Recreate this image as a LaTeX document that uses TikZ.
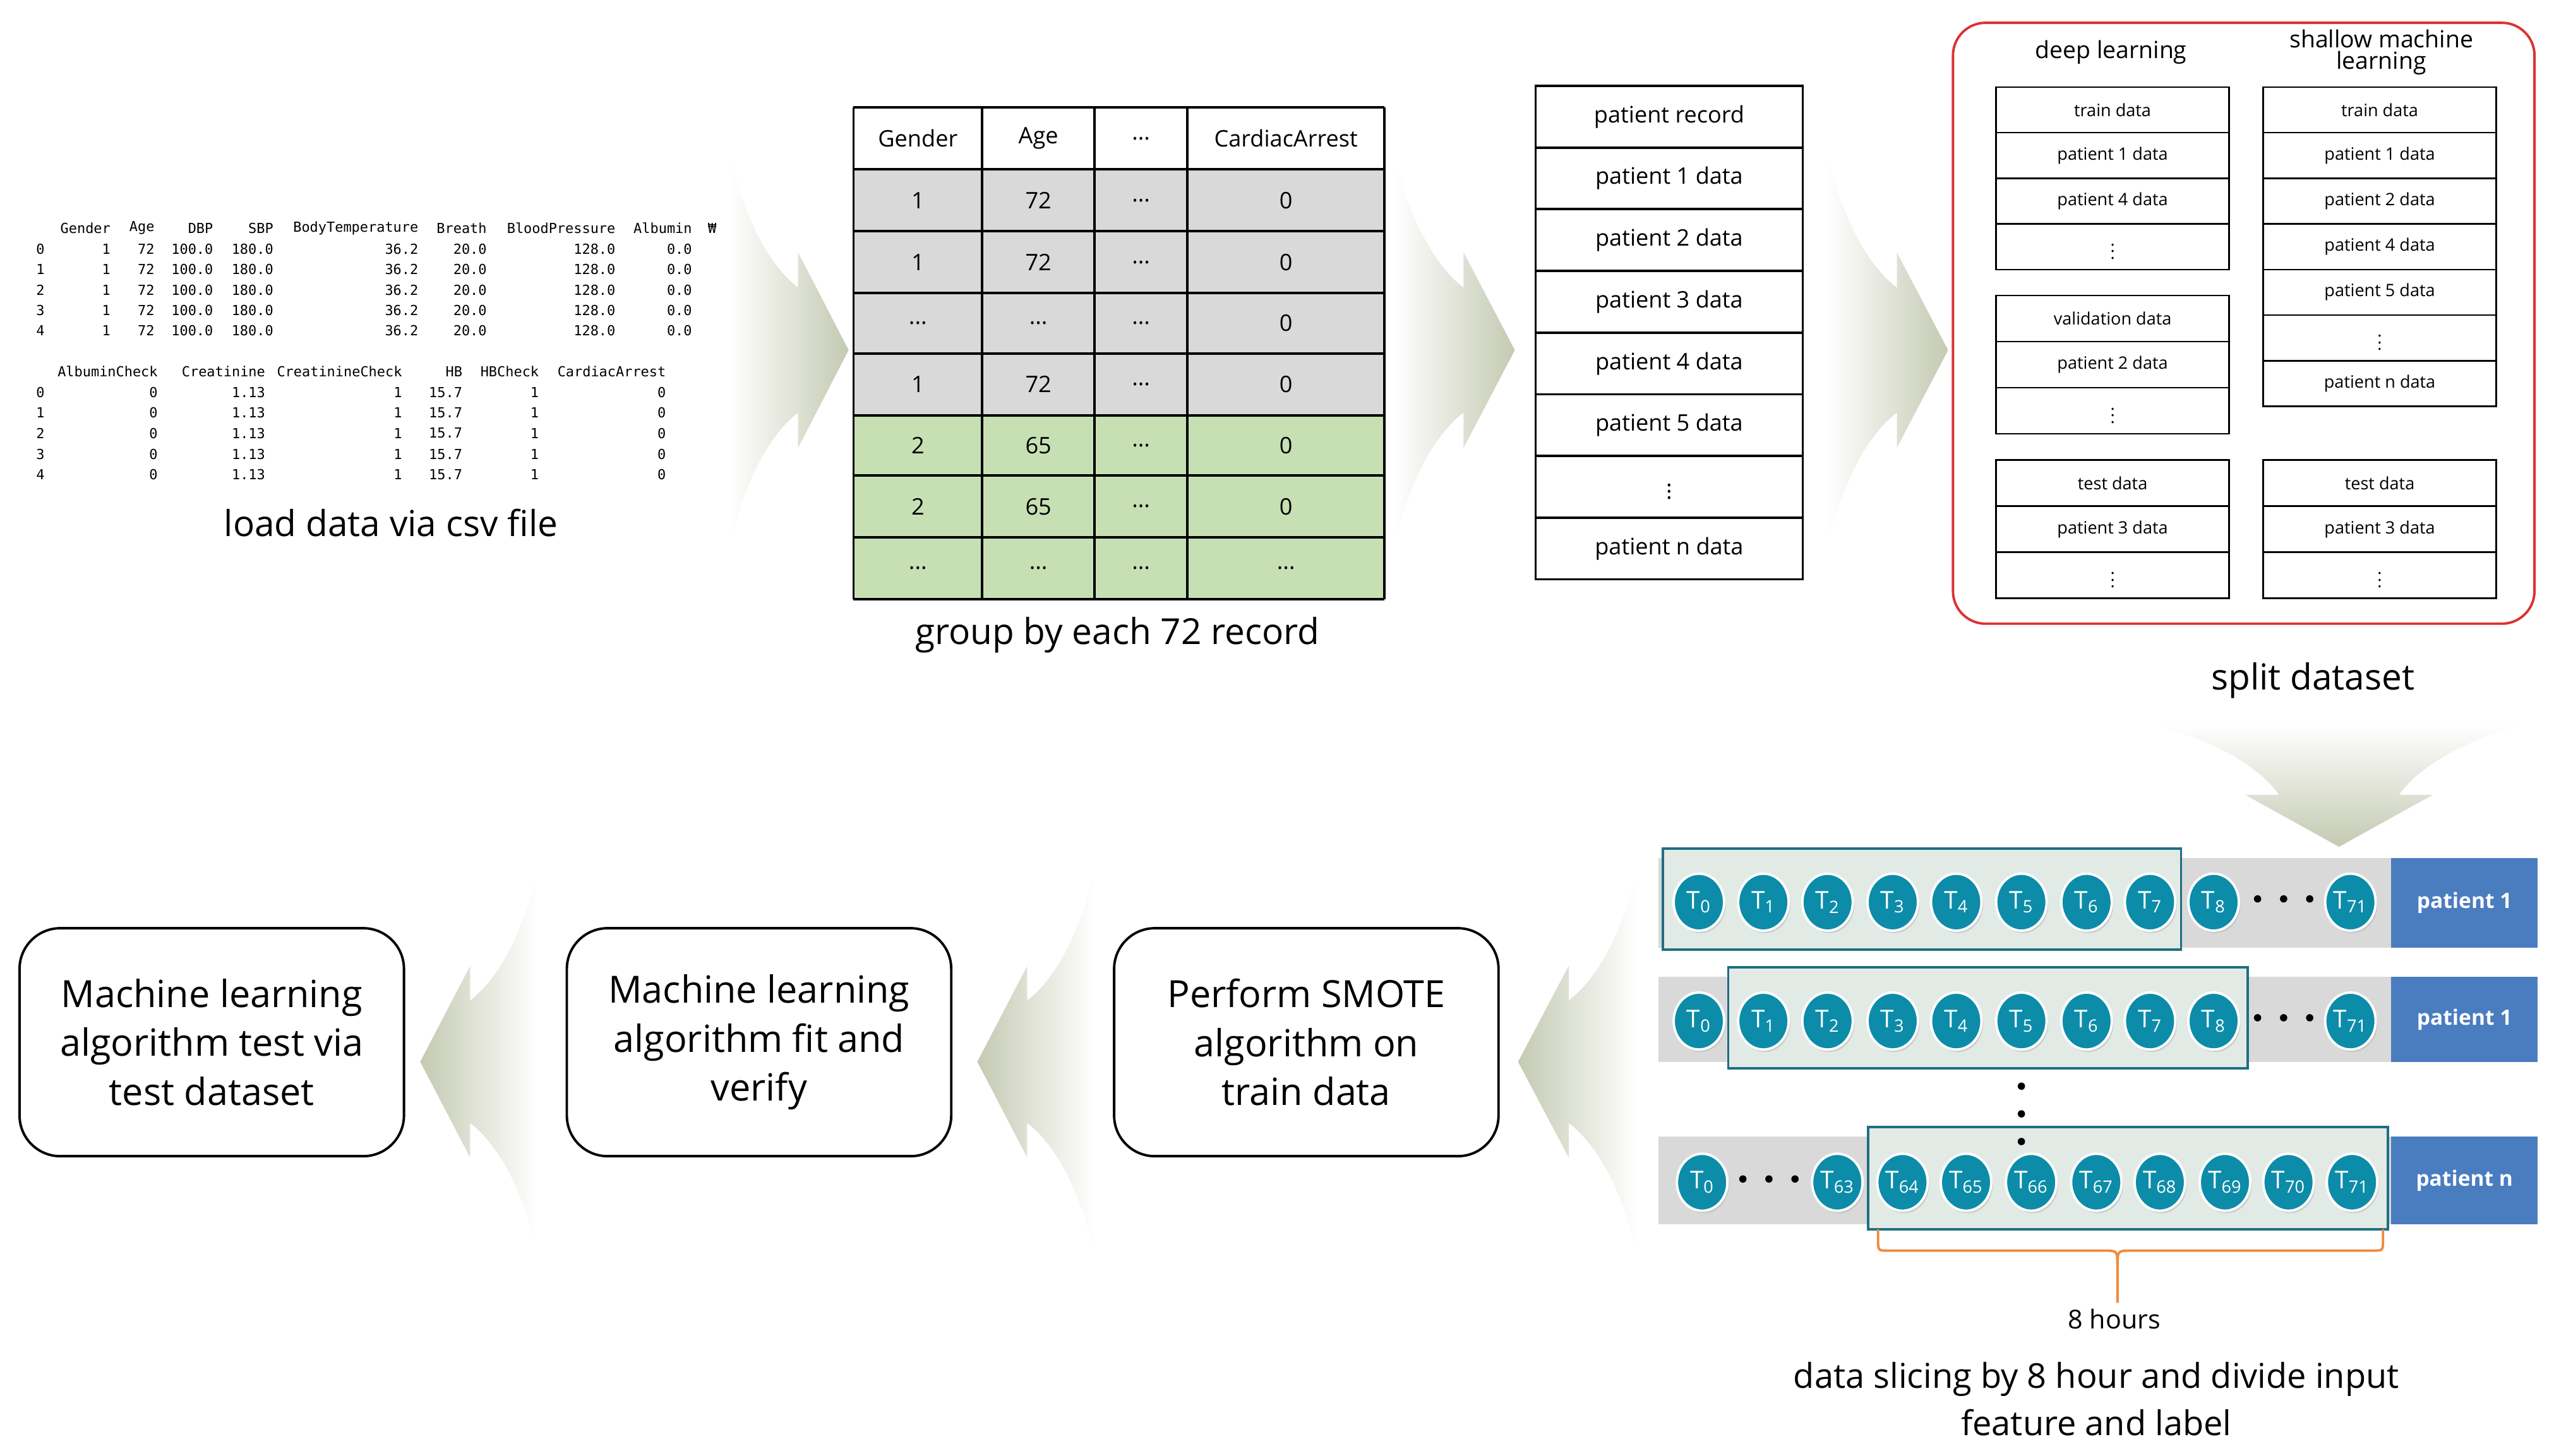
\documentclass[tikz,border=0pt]{standalone}
\usepackage{fontspec}
\setmainfont{Open Sans}
\newfontfamily\csvfont{DejaVu Sans Mono}
\usetikzlibrary{shapes.geometric,shadows}
\definecolor{cg}{RGB}{196,202,178}
\definecolor{tealc}{RGB}{12,140,168}
\definecolor{hl}{RGB}{226,234,230}
\definecolor{hlb}{RGB}{31,110,130}
\definecolor{pblue}{RGB}{74,124,192}
\definecolor{band}{RGB}{217,217,217}
\definecolor{grn}{RGB}{198,224,180}
\definecolor{redb}{RGB}{220,50,50}
\definecolor{orng}{RGB}{240,138,60}
\newcommand\dd{...}
\newcommand\chevron[2]{\begin{scope}[#1]\shade[#2] (0,-0.5) .. controls (0.15,-0.3) and (0.4,-0.2) .. (0.575,-0.16) -- (0.575,-0.25) -- (1,0) -- (0.575,0.25) -- (0.575,0.16) .. controls (0.4,0.2) and (0.15,0.3) .. (0,0.5) -- cycle;\end{scope}}
\begin{document}
\begin{tikzpicture}[x=1pt,y=-1pt,
  csv/.style={font=\csvfont\fontsize{8.5}{9}\selectfont,inner sep=0pt,anchor=east},
  csvi/.style={font=\csvfont\fontsize{8.5}{9}\selectfont,inner sep=0pt,anchor=west},
  captxt/.style={font=\fontsize{22}{26}\selectfont,align=center},
  tt/.style={font=\fontsize{14}{16}\selectfont},
  st/.style={font=\fontsize{10.5}{12}\selectfont},
  bb/.style={draw,line width=1.5pt,rounded corners=25pt,minimum width=236pt,minimum height=140pt,align=center,font=\fontsize{23}{30}\selectfont},
  tc/.style={ellipse,draw=white,line width=1.5pt,fill=tealc,minimum width=31pt,minimum height=35pt,inner sep=0pt,text=white,font=\fontsize{15}{16}\selectfont,drop shadow={shadow xshift=1pt,shadow yshift=-1.5pt,fill=black!30}},
  pb/.style={fill=pblue,minimum width=90pt,minimum height=55pt,inner sep=0pt,text=white,font=\bfseries\fontsize{13}{14}\selectfont},
  hlr/.style={fill=hl,draw=hlb,line width=1.5pt},
  dot/.style={circle,fill=black,inner sep=0pt,minimum size=4.5pt}]
\useasboundingbox (0,0) rectangle (1568,894);
\fill[white] (0,0) rectangle (1568,894);
% ---------- arrows ----------
\chevron{shift={(448,215)},xscale=73,yscale=240}{left color=white,right color=cg}
\chevron{shift={(856,215)},xscale=74,yscale=240}{left color=white,right color=cg}
\chevron{shift={(1122,215)},xscale=74,yscale=240}{left color=white,right color=cg}
\chevron{shift={(330,652)},xscale=-72,yscale=235}{left color=cg,right color=white}
\chevron{shift={(672,652)},xscale=-72,yscale=235}{left color=cg,right color=white}
\chevron{shift={(1005,652)},xscale=-73,yscale=235}{left color=cg,right color=white}
\chevron{shift={(1436,445)},cm={0,-75,-230,0,(0,0)}}{top color=white,bottom color=cg}
% ---------- csv ----------
\foreach \h/\x in {Gender/68,Age/95,DBP/131,SBP/168,BodyTemperature/257,Breath/299,BloodPressure/378,Albumin/425,₩/440}
  \node[csv] (h\h) at (\x,140) {\h};
\foreach \r/\y in {0/153,1/165.5,2/178,3/190.5,4/203}{
  \node[csvi] (ia\r) at (22,\y) {\r};
  \foreach \v/\x in {1/68,72/95,100.0/131,180.0/168,36.2/257,20.0/299,128.0/378,0.0/425}
    \node[csv] at (\x,\y) {\v};}
\foreach \h/\x in {AlbuminCheck/97,Creatinine/163,CreatinineCheck/247,HB/284,HBCheck/331,CardiacArrest/409}
  \node[csv] (g\h) at (\x,228) {\h};
\foreach \r/\y in {0/241,1/253.5,2/266,3/279,4/291.5}{
  \node[csvi] (ib\r) at (22,\y) {\r};
  \foreach \v/\x in {0/97,1.13/163,1/247,15.7/284,1/331,0/409}
    \node[csv] at (\x,\y) {\v};}
\node[captxt] (cap1) at (240,321) {load data via csv file};
% ---------- table ----------
\fill[band] (524,104) rectangle (850,255);
\fill[grn] (524,255) rectangle (850,368);
\foreach \y in {66,104,142,180,217,255,292,330,368} \draw[line width=1.5pt] (524,\y) -- (850,\y);
\foreach \x in {524,603,672,729,850} \draw[line width=1.5pt] (\x,66) -- (\x,368);
\foreach \t/\x in {Gender/563.5,Age/637.5,\dd/700.5,CardiacArrest/789.5} \node[tt] at (\x,85) {\t};
\foreach \a/\b/\d/\y in {1/72/0/123,1/72/0/161,\dd/\dd/0/198.5,1/72/0/236,2/65/0/273.5,2/65/0/311,\dd/\dd/\dd/349}{
  \node[tt] at (563.5,\y) {\a}; \node[tt] at (637.5,\y) {\b};
  \node[tt] at (700.5,\y) {\dd}; \node[tt] at (789.5,\y) {\d};}
\node[captxt] (cap2) at (686,390) {group by each 72 record};
% ---------- patient list ----------
\foreach \t [count=\i from 0] in {patient record,patient 1 data,patient 2 data,patient 3 data,patient 4 data,patient 5 data,$\vdots$,patient n data}{
  \pgfmathsetmacro\ya{52+37.875*\i}
  \node[draw,line width=1.5pt,minimum width=164pt,minimum height=37.875pt,inner sep=0pt,anchor=north west,tt] (pl\i) at (942,\ya) {\t};}
% ---------- split dataset ----------
\draw[redb,line width=1.5pt,rounded corners=20pt] (1199,14) rectangle (1556,383);
\node[font=\fontsize{14.5}{16}\selectfont] (dl) at (1296,32) {deep learning};
\node[font=\fontsize{14.5}{16}\selectfont,align=center] (sml) at (1462,32) {shallow machine\\[-3pt]learning};
\foreach \t [count=\i from 0] in {train data,patient 1 data,patient 4 data,$\vdots$}
  \node[draw,line width=1pt,minimum width=143pt,minimum height=28pt,inner sep=0pt,anchor=north west,st] (la\i) at (1225,53+28*\i) {\t};
\foreach \t [count=\i from 0] in {validation data,patient 2 data,$\vdots$}
  \node[draw,line width=1pt,minimum width=143pt,minimum height=28.3pt,inner sep=0pt,anchor=north west,st] (lb\i) at (1225,181+28.3*\i) {\t};
\foreach \t [count=\i from 0] in {test data,patient 3 data,$\vdots$}
  \node[draw,line width=1pt,minimum width=143pt,minimum height=28.3pt,inner sep=0pt,anchor=north west,st] (lc\i) at (1225,282+28.3*\i) {\t};
\foreach \t [count=\i from 0] in {train data,patient 1 data,patient 2 data,patient 4 data,patient 5 data,$\vdots$,patient n data}
  \node[draw,line width=1pt,minimum width=143pt,minimum height=28pt,inner sep=0pt,anchor=north west,st] (ra\i) at (1389,53+28*\i) {\t};
\foreach \t [count=\i from 0] in {test data,patient 3 data,$\vdots$}
  \node[draw,line width=1pt,minimum width=143pt,minimum height=28.3pt,inner sep=0pt,anchor=north west,st] (rc\i) at (1389,282+28.3*\i) {\t};
\node[captxt] (cap3) at (1420,418) {split dataset};
% ---------- time slices ----------
\fill[band] (1018,527) rectangle (1468,582);
\fill[band] (1018,600) rectangle (1468,652);
\fill[band] (1018,698) rectangle (1468,752);
\draw[hlr] (1021,521) rectangle (1339,583);
\draw[hlr] (1061,594) rectangle (1380,656);
\draw[hlr] (1147,692) rectangle (1466,755);
\node[pb] (p1) at (1513,554.5) {patient 1};
\node[pb,minimum height=52pt] (p2) at (1513,626) {patient 1};
\node[pb,minimum height=54pt] (p3) at (1513,725) {patient n};
\foreach \k/\x in {0/1043,1/1082.6,2/1122,3/1162,4/1201,5/1241,6/1281,7/1320,8/1359,71/1443}{
  \node[tc] (a\k) at (\x,554) {T\textsubscript{\k}};
  \node[tc] (b\k) at (\x,627) {T\textsubscript{\k}};}
\foreach \k/\x in {0/1045,63/1128,64/1168,65/1207,66/1247,67/1287,68/1326,69/1366,70/1405,71/1444}
  \node[tc] (c\k) at (\x,726) {T\textsubscript{\k}};
\foreach \x in {1386,1402,1418}{\node[dot] at (\x,552) {}; \node[dot] at (\x,625) {};}
\foreach \x in {1070,1086,1102} \node[dot] at (\x,724) {};
\foreach \y in {667,684,701} \node[dot] at (1241,\y) {};
\coordinate (bl) at (1153,755); \coordinate (br) at (1463,755); \coordinate (bm) at (1300,800);
\draw[orng,line width=1.5pt] (bl) -- (1153,762) .. controls (1153,768) .. (1160,768) -- (1292,768) .. controls (1300,768) .. (1300,778) -- (bm);
\draw[orng,line width=1.5pt] (br) -- (1463,762) .. controls (1463,768) .. (1456,768) -- (1308,768) .. controls (1300,768) .. (1300,778);
\node[font=\fontsize{16}{18}\selectfont] (eh) at (1298,810) {8 hours};
\node[captxt,font=\fontsize{21}{29}\selectfont] (cap4) at (1287,859) {data slicing by 8 hour and divide input\\feature and label};
% ---------- bottom boxes ----------
\node[bb] (m1) at (130,640) {Machine learning\\algorithm test via\\test dataset};
\node[bb] (m2) at (466,640) {Machine learning\\algorithm fit and\\verify};
\node[bb] (m3) at (802,640) {Perform SMOTE\\algorithm on\\train data};
\end{tikzpicture}
\end{document}
